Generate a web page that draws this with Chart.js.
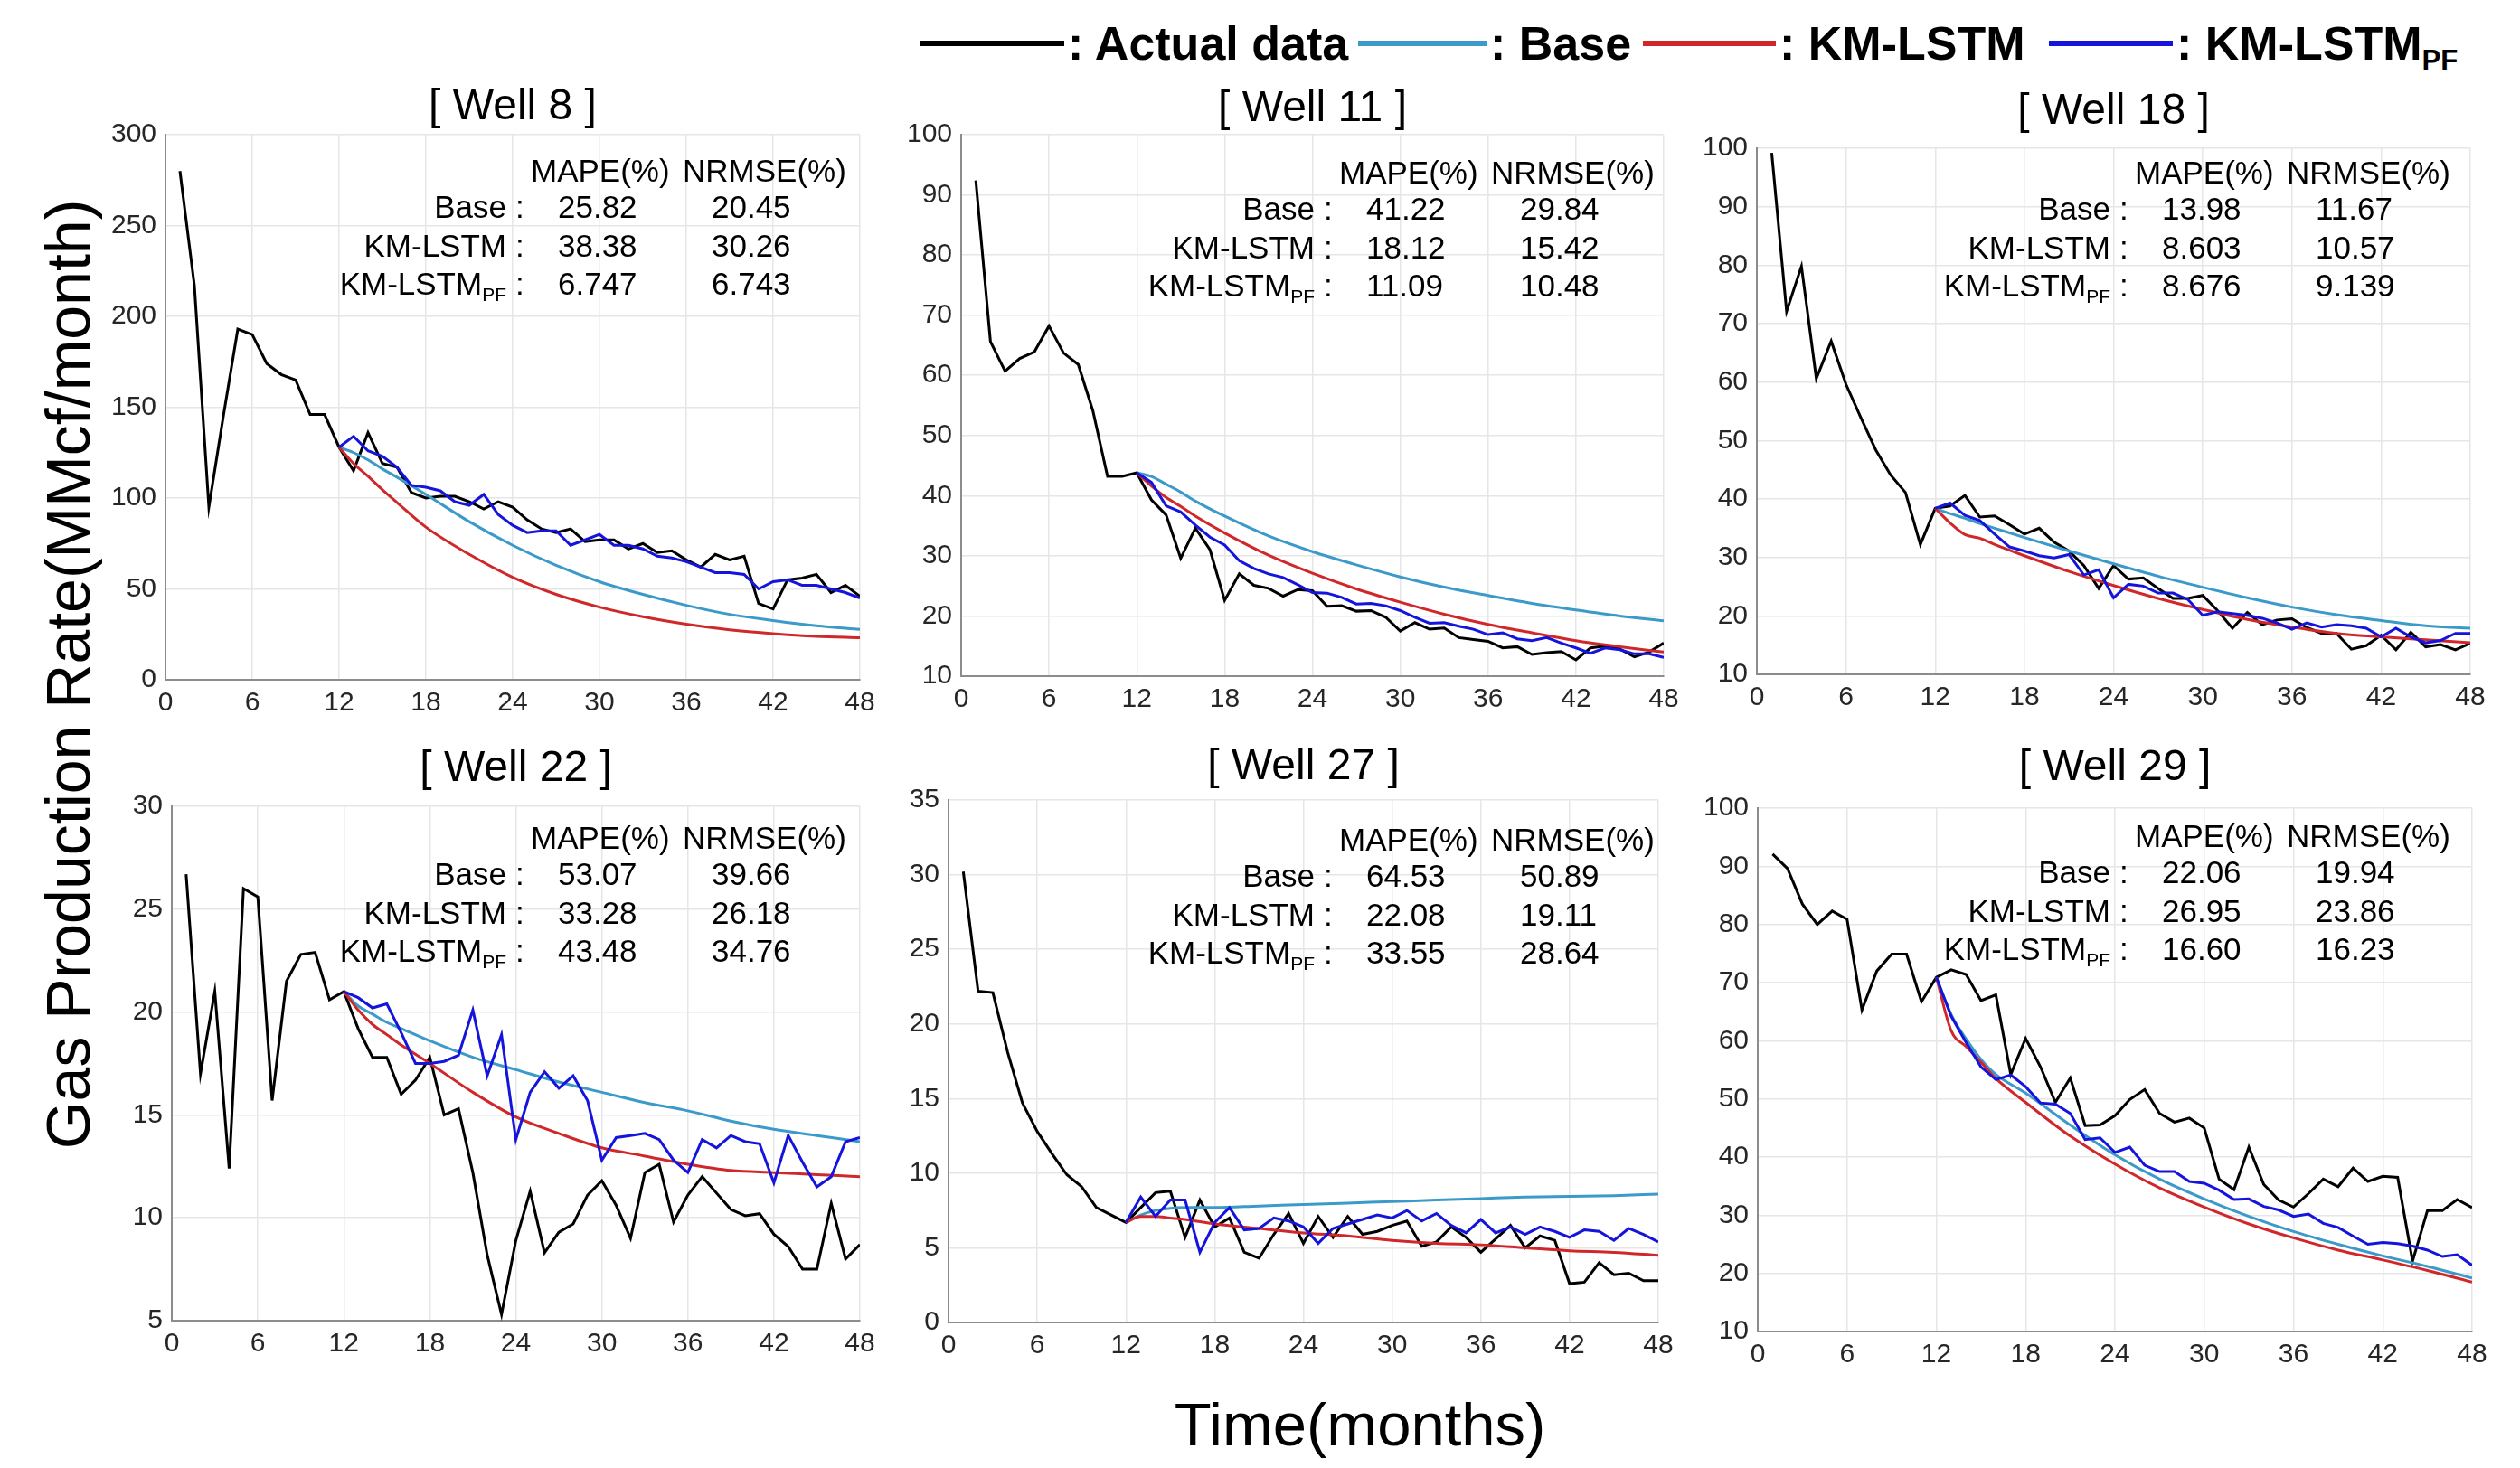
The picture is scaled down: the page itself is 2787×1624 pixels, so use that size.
<!DOCTYPE html>
<html>
<head>
<meta charset="utf-8">
<script src="https://cdn.jsdelivr.net/npm/chart.js@4.4.1/dist/chart.umd.min.js"></script>
<style>
  body { margin: 0; background: #fff; }
  #fig { position: relative; width: 2787px; height: 1624px; overflow: hidden; background: #fff;
         font-family: "Liberation Sans", Arial, sans-serif; color: #000; }
  #fig canvas { position: absolute; }
  .txt { position: absolute; white-space: nowrap; line-height: 1; transform: translateY(-50%); }
  .rt { transform: translate(-100%, -50%); }
  .lg-line { position: absolute; height: 6px; transform: translateY(-50%); }
  .lg { font-weight: bold; font-size: 52px; }
  .st { font-size: 35px; }
  sub { font-size: 0.6em; vertical-align: -0.35em; line-height: 0; }
  #ylab { position: absolute; left: 75px; top: 746px; font-size: 68px; white-space: nowrap; line-height: 1;
          transform: translate(-50%, -50%) rotate(-90deg); }
  #xlab { position: absolute; left: 1504px; top: 1575px; font-size: 67px; white-space: nowrap; line-height: 1;
          transform: translate(-50%, -50%); }
</style>
</head>
<body>
<div id="fig">
  <div id="ylab">Gas Production Rate(MMcf/month)</div>
  <div id="xlab">Time(months)</div>
</div>
<script>
// x positions (months)
const months = [1, 2, 3, 4, 5, 6, 7, 8, 9, 10, 11, 12, 13, 14, 15, 16, 17, 18, 19, 20, 21, 22, 23, 24,
                25, 26, 27, 28, 29, 30, 31, 32, 33, 34, 35, 36, 37, 38, 39, 40, 41, 42, 43, 44, 45, 46, 47, 48];
const pfMonths = [12, 13, 14, 15, 16, 17, 18, 19, 20, 21, 22, 23, 24, 25, 26, 27, 28, 29, 30,
                  31, 32, 33, 34, 35, 36, 37, 38, 39, 40, 41, 42, 43, 44, 45, 46, 47, 48];
const fitMonths = [12, 13, 14, 15, 16, 18, 21, 24, 27, 30, 33, 36, 39, 42, 45, 48];

const wells = ['8', '11', '18', '22', '27', '29'];

// Well 8
const actual8 = [280, 217, 95, 145, 193, 190, 174, 168, 165, 146, 146, 128, 115, 136, 119, 117, 103, 100, 101, 101, 98, 94, 98, 95,
                 88, 83, 81, 83, 76, 77, 77, 72, 75, 70, 71, 66, 62, 69, 66, 68, 42, 39, 55, 56, 58, 48, 52, 46];
const pf8 = [128, 134, 126, 123, 117, 107, 106, 104, 98, 96, 102, 91, 85, 81, 82, 82, 74, 77, 80,
             74, 74, 72, 68, 67, 65, 62, 59, 59, 58, 50, 54, 55, 52, 52, 50, 48, 45];
const base8 = [128, 125, 121, 116, 111.5, 102, 87, 74, 63, 54, 47, 41, 36, 32.6, 29.7, 27.7];
const km8 = [128, 119, 112, 104.5, 97.6, 84, 69, 56.4, 47, 40, 34.7, 30.6, 27.5, 25.4, 23.9, 23.1];

// Well 11
const actual11 = [92.4, 65.6, 60.7, 62.8, 63.9, 68.2, 63.7, 61.8, 54.1, 43.2, 43.2, 43.8, 39.3, 36.8, 29.6, 34.6, 31, 22.6, 27, 25.1,
                  24.6, 23.3, 24.4, 24.2, 21.6, 21.7, 20.8, 20.9, 19.8, 17.5, 18.9, 17.8, 18, 16.4, 16.1, 15.8, 14.7, 14.9, 13.6, 13.9,
                  14.1, 12.7, 14.7, 15, 14.5, 13.2, 14, 15.5];
const pf11 = [43.8, 42.2, 38.3, 37.3, 35.1, 33.1, 31.8, 29.2, 27.9, 27, 26.4, 25.2, 23.9, 23.8, 23.1, 22, 22.1, 21.7, 20.9,
              19.8, 18.8, 18.9, 18.3, 17.8, 16.9, 17.2, 16.2, 15.9, 16.4, 15.5, 14.7, 13.8, 14.7, 14.4, 13.7, 13.7, 13.1];
const base11 = [43.8, 43.2, 41.9, 40.6, 39.1, 36.6, 33.3, 30.7, 28.5, 26.5, 24.8, 23.4, 22.1, 21, 20, 19.2];
const km11 = [43.8, 41.6, 39.7, 38.2, 36.6, 33.8, 30.1, 27.1, 24.5, 22.3, 20.3, 18.6, 17.2, 15.9, 14.9, 14];

// Well 18
const actual18 = [99.2, 72.1, 79.8, 60.6, 67, 59.6, 53.9, 48.4, 44.1, 41.1, 32.2, 38.4, 38.8, 40.6, 36.9, 37.1, 35.6, 34, 35, 32.6,
                  31.1, 28.6, 24.7, 28.6, 26.3, 26.5, 24.7, 23, 23, 23.5, 20.9, 17.9, 20.6, 18.5, 19.3, 19.5, 18, 17, 17, 14.3,
                  14.9, 16.7, 14.2, 17.2, 14.7, 15.1, 14.2, 15.3];
const pf18 = [38.4, 39.3, 37.2, 36.3, 34, 31.8, 31.1, 30.3, 29.9, 30.5, 27, 27.9, 23.1, 25.4, 25.1, 23.9, 23.9, 22.8, 20.1,
              20.7, 20.4, 20.1, 19.6, 18.8, 17.7, 18.8, 18.1, 18.5, 18.3, 17.9, 16.4, 17.9, 16.4, 15.4, 15.8, 17, 17];
const base18 = [38.4, 37.5, 36.7, 35.8, 35, 33.4, 31.1, 28.9, 26.8, 24.9, 23.1, 21.5, 20.2, 19.2, 18.3, 17.9];
const km18 = [38.4, 35.9, 33.9, 33.3, 32.2, 30.3, 27.6, 25.2, 23, 21.1, 19.4, 18.1, 17, 16.4, 15.9, 15.4];

// Well 22
const actual22 = [26.7, 17, 21, 12.4, 26, 25.6, 15.7, 21.5, 22.8, 22.9, 20.6, 21, 19.2, 17.8, 17.8, 16, 16.7, 17.8, 15, 15.3,
                  12.2, 8.2, 5.3, 8.9, 11.3, 8.3, 9.3, 9.7, 11.1, 11.8, 10.6, 9, 12.2, 12.6, 9.8, 11.1, 12, 11.2, 10.4, 10.1,
                  10.2, 9.2, 8.6, 7.5, 7.5, 10.7, 8, 8.7];
const pf22 = [21, 20.7, 20.2, 20.4, 19, 17.5, 17.5, 17.6, 17.9, 20.1, 16.9, 18.9, 13.8, 16.1, 17.1, 16.3, 16.9, 15.7, 12.8,
              13.9, 14, 14.1, 13.8, 12.8, 12.2, 13.8, 13.4, 14, 13.7, 13.6, 11.7, 14, 12.7, 11.5, 12, 13.7, 13.9];
const base22 = [21, 20.3, 19.9, 19.5, 19.2, 18.6, 17.8, 17.2, 16.6, 16.1, 15.6, 15.2, 14.7, 14.3, 14, 13.7];
const km22 = [21, 20.1, 19.4, 18.9, 18.4, 17.5, 16.1, 14.9, 14.1, 13.4, 13, 12.6, 12.3, 12.2, 12.1, 12];

// Well 27
const actual27 = [30.2, 22.2, 22.1, 18.1, 14.7, 12.8, 11.3, 9.9, 9.1, 7.7, 7.2, 6.7, 7.7, 8.7, 8.8, 5.7, 8.2, 6.4, 7, 4.7,
                  4.3, 5.9, 7.3, 5.3, 7.1, 5.7, 7.1, 5.9, 6.1, 6.5, 6.8, 5.1, 5.4, 6.4, 5.7, 4.7, 5.6, 6.5, 5, 5.8,
                  5.5, 2.6, 2.7, 4, 3.2, 3.3, 2.8, 2.8];
const pf27 = [6.7, 8.4, 7.1, 8.2, 8.2, 4.7, 6.7, 7.7, 6.2, 6.3, 7, 6.8, 6.4, 5.3, 6.3, 6.6, 6.9, 7.2, 7,
              7.5, 6.8, 7.3, 6.5, 6, 6.9, 6, 6.4, 5.9, 6.4, 6.1, 5.7, 6.2, 6.1, 5.5, 6.3, 5.9, 5.4];
const base27 = [6.7, 7.2, 7.5, 7.65, 7.7, 7.7, 7.8, 7.9, 8, 8.1, 8.2, 8.3, 8.4, 8.45, 8.5, 8.6];
const km27 = [6.7, 7.1, 7.1, 7.0, 6.9, 6.6, 6.3, 6.0, 5.8, 5.5, 5.3, 5.2, 5.0, 4.8, 4.7, 4.5];

// Well 29
const actual29 = [92.1, 89.6, 83.5, 80, 82.3, 80.9, 65.3, 72, 74.9, 74.9, 66.7, 70.9, 72.2, 71.4, 66.9, 67.9, 54.2, 60.4, 55.5, 49.4,
                  53.6, 45.4, 45.5, 47.1, 49.9, 51.6, 47.5, 46, 46.7, 45, 36.2, 34.4, 41.7, 35.3, 32.6, 31.4, 33.7, 36.2, 34.9, 38.1,
                  35.8, 36.7, 36.5, 22.1, 30.8, 30.8, 32.7, 31.3];
const pf29 = [70.9, 64.2, 59.7, 55.5, 53.3, 54.1, 52.1, 49.3, 49.1, 47.5, 43, 43.3, 40.8, 41.7, 38.6, 37.5, 37.5, 35.8, 35.5,
              34.3, 32.7, 32.8, 31.5, 30.9, 29.8, 30.2, 28.6, 27.9, 26.4, 25, 25.3, 25.1, 24.7, 24, 22.9, 23.2, 21.4];
const base29 = [70.9, 64.5, 60.3, 56.8, 54.2, 51, 45.5, 40.4, 36.2, 32.8, 29.8, 27.2, 25, 23, 21.2, 19.2];
const km29 = [70.9, 61.7, 59, 56.3, 53.5, 49.4, 43.6, 38.8, 34.7, 31.4, 28.5, 26.1, 24, 22.3, 20.5, 18.5];

// error tables (same order as wells)
const mapeBase  = ['25.82', '41.22', '13.98', '53.07', '64.53', '22.06'];
const nrmseBase = ['20.45', '29.84', '11.67', '39.66', '50.89', '19.94'];
const mapeKm    = ['38.38', '18.12', '8.603', '33.28', '22.08', '26.95'];
const nrmseKm   = ['30.26', '15.42', '10.57', '26.18', '19.11', '23.86'];
const mapePf    = ['6.747', '11.09', '8.676', '43.48', '33.55', '16.60'];
const nrmsePf   = ['6.743', '10.48', '9.139', '34.76', '28.64', '16.23'];

// axis ranges
const yMin  = [0, 10, 10, 5, 0, 10];
const yMax  = [300, 100, 100, 30, 35, 100];
const yStep = [50, 10, 10, 5, 5, 10];

const series = [
  [actual8, base8, km8, pf8],
  [actual11, base11, km11, pf11],
  [actual18, base18, km18, pf18],
  [actual22, base22, km22, pf22],
  [actual27, base27, km27, pf27],
  [actual29, base29, km29, pf29]
];

const C_ACT = '#000000', C_BASE = '#3b9ac9', C_KM = '#d0282a', C_PF = '#1414dc';
const FONT = '"Liberation Sans", Arial, sans-serif';

// plot-area boxes (l, t, w, h), title gap, table anchor
const boxes = [
  { l: 183,  t: 149, w: 768, h: 603, gap: 30, tx: 560,  ty: 188 },
  { l: 1063, t: 149, w: 777, h: 599, gap: 28, tx: 1454, ty: 190 },
  { l: 1943, t: 164, w: 789, h: 582, gap: 40, tx: 2334, ty: 190 },
  { l: 190,  t: 892, w: 761, h: 569, gap: 41, tx: 560,  ty: 926 },
  { l: 1049, t: 885, w: 785, h: 578, gap: 36, tx: 1454, ty: 928 },
  { l: 1944, t: 894, w: 790, h: 579, gap: 44, tx: 2334, ty: 924 }
];

const fig = document.getElementById('fig');
const YW = 100, XH = 55, PADR = 30;

function pts(xs, ys) {
  return ys.map((y, i) => ({ x: xs[i], y: y }));
}

function addText(html, x, y, cls, rightAlign) {
  const el = document.createElement('div');
  el.className = 'txt ' + cls + (rightAlign ? ' rt' : '');
  el.style.left = x + 'px';
  el.style.top = y + 'px';
  el.innerHTML = html;
  fig.appendChild(el);
}

boxes.forEach((b, i) => {
  const cv = document.createElement('canvas');
  cv.width = b.w + YW + PADR;
  cv.height = b.h + 24 + b.gap + XH;
  cv.style.left = (b.l - YW) + 'px';
  cv.style.top = (b.t - 24 - b.gap) + 'px';
  fig.appendChild(cv);

  const [act, base, km, pf] = series[i];
  const tickFont = { family: FONT, size: 30 };

  new Chart(cv, {
    type: 'line',
    data: {
      datasets: [
        { label: 'Actual data', data: pts(months, act), borderColor: C_ACT, order: 4 },
        { label: 'Base', data: pts(fitMonths, base), borderColor: C_BASE, cubicInterpolationMode: 'monotone', order: 3 },
        { label: 'KM-LSTM', data: pts(fitMonths, km), borderColor: C_KM, cubicInterpolationMode: 'monotone', order: 2 },
        { label: 'KM-LSTM PF', data: pts(pfMonths, pf), borderColor: C_PF, order: 1 }
      ]
    },
    options: {
      responsive: false,
      animation: false,
      devicePixelRatio: 1,
      elements: { point: { radius: 0 }, line: { borderWidth: 3, tension: 0 } },
      layout: { padding: { left: 0, right: PADR, top: 0, bottom: 0 } },
      plugins: {
        legend: { display: false },
        tooltip: { enabled: false },
        title: {
          display: true,
          text: '[ Well ' + wells[i] + ' ]',
          fullSize: false,
          color: '#000',
          font: { family: FONT, size: 48, weight: 'normal', lineHeight: 1 },
          padding: { top: 0, bottom: b.gap - 24 }
        }
      },
      scales: {
        x: {
          type: 'linear', min: 0, max: 48,
          ticks: { stepSize: 6, font: tickFont, color: '#262626', padding: 8, maxRotation: 0 },
          grid: { color: '#e6e6e6', lineWidth: 1.5, drawTicks: false },
          border: { color: '#8c8c8c', width: 2 },
          afterFit: s => { s.height = XH; }
        },
        y: {
          min: yMin[i], max: yMax[i],
          ticks: { stepSize: yStep[i], font: tickFont, color: '#262626', padding: 10 },
          grid: { color: '#e6e6e6', lineWidth: 1.5, drawTicks: false },
          border: { color: '#8c8c8c', width: 2 },
          afterFit: s => { s.width = YW; }
        }
      }
    }
  });

  // error table
  addText('MAPE(%)', b.tx + 27, b.ty, 'st');
  addText('NRMSE(%)', b.tx + 195, b.ty, 'st');
  const rows = [
    ['Base', mapeBase[i], nrmseBase[i]],
    ['KM-LSTM', mapeKm[i], nrmseKm[i]],
    ['KM-LSTM<sub>PF</sub>', mapePf[i], nrmsePf[i]]
  ];
  rows.forEach((r, k) => {
    const y = b.ty + 40 + k * 42.5;
    addText(r[0], b.tx, y, 'st', true);
    addText(':', b.tx + 10, y, 'st');
    addText(r[1], b.tx + 57, y, 'st');
    addText(r[2], b.tx + 227, y, 'st');
  });
});

// shared legend
const legendItems = [
  { color: C_ACT,  x0: 1018, x1: 1177, text: ': Actual data' },
  { color: C_BASE, x0: 1502, x1: 1644, text: ': Base' },
  { color: C_KM,   x0: 1817, x1: 1964, text: ': KM-LSTM' },
  { color: C_PF,   x0: 2266, x1: 2403, text: ': KM-LSTM<sub>PF</sub>' }
];
legendItems.forEach(it => {
  const ln = document.createElement('div');
  ln.className = 'lg-line';
  ln.style.left = it.x0 + 'px';
  ln.style.width = (it.x1 - it.x0) + 'px';
  ln.style.top = '48px';
  ln.style.background = it.color;
  fig.appendChild(ln);
  addText(it.text, it.x1 + 4, 48, 'lg');
});
</script>
</body>
</html>
